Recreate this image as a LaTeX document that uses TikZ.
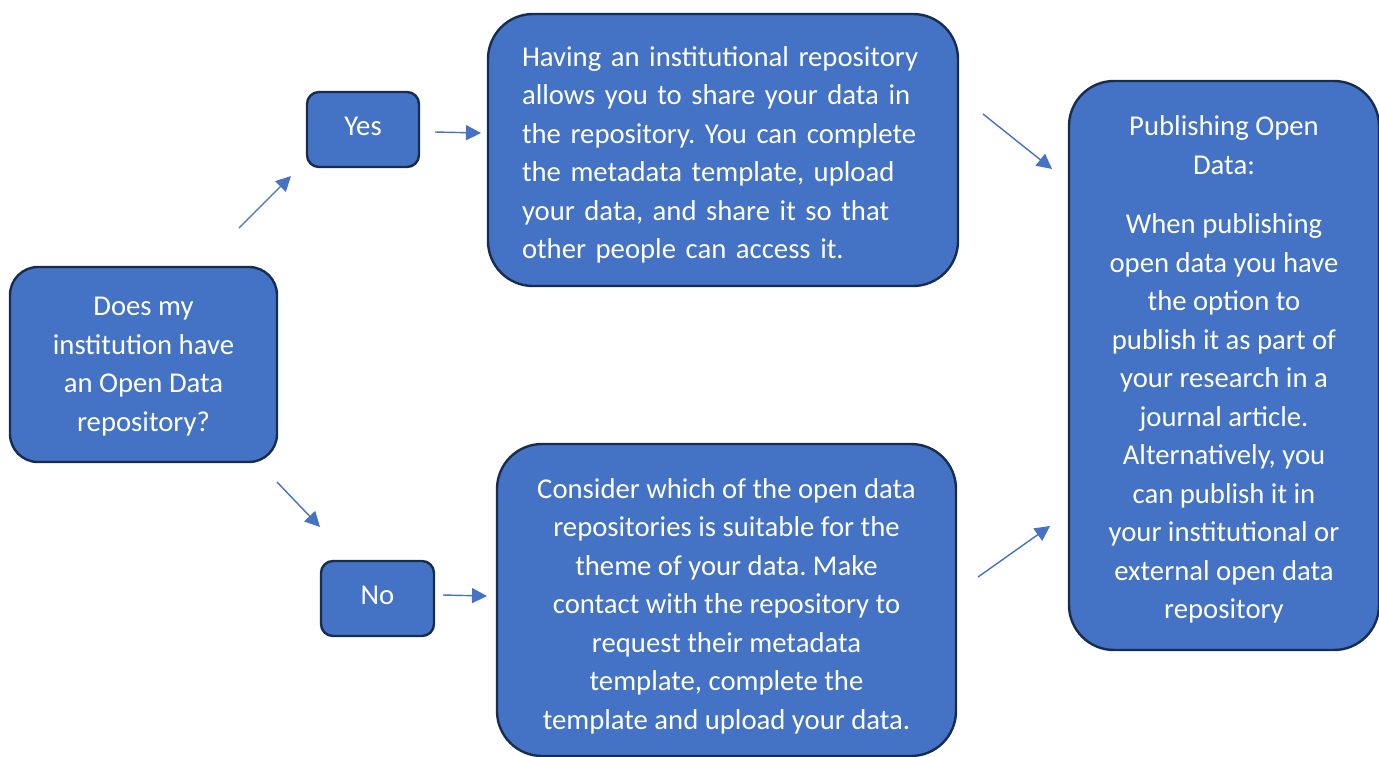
\documentclass[tikz,border=0pt]{standalone}
\usepackage{fontspec}
\setmainfont{Carlito}
\usetikzlibrary{arrows.meta}
\frenchspacing
\definecolor{boxfill}{HTML}{4472C4}
\definecolor{boxedge}{HTML}{172C51}
\tikzset{
  box/.style={draw=boxedge, fill=boxfill, line width=2.4pt, inner sep=0pt},
  boxtext/.style={text=white, inner sep=0pt,
    font=\fontsize{28.7}{38.5}\selectfont, align=center},
  conn/.style={draw=boxfill, line width=1.4pt,
    -{Triangle[length=15pt,width=15pt]}}
}
\begin{document}
\begin{tikzpicture}[x=1pt,y=-1pt]
\useasboundingbox (0,0) rectangle (1379,756);
\node[box, rounded corners=28pt, minimum width=267pt, minimum height=195pt] (q) at (143.5,364.5) {};
\node[boxtext] (qt) at ([yshift=-2pt]q.center)
  {Does my\\institution have\\an Open Data\\repository?};
\node[box, rounded corners=12pt, minimum width=112pt, minimum height=75pt] (yes) at (363,129.5) {};
\node[boxtext] (yest) at ([yshift=3pt]yes.center) {Yes};
\node[box, rounded corners=12pt, minimum width=113pt, minimum height=75pt] (no) at (377.5,598.5) {};
\node[boxtext] (not) at ([yshift=3pt]no.center) {No};
\node[box, rounded corners=45pt, minimum width=470pt, minimum height=272pt] (top) at (723,150) {};
\node[boxtext, align=left, text width=402pt] (topt) at ([yshift=-5pt]top.center)
  {Having an institutional repository\\allows you to share your data in\\the repository. You can complete\\the metadata template, upload\\your data, and share it so that\\other people can access it.};
\node[box, rounded corners=45pt, minimum width=459pt, minimum height=312pt] (bot) at (726.5,600) {};
\node[boxtext] (bott) at ([yshift=-6pt]bot.center)
  {Consider which of the open data\\repositories is suitable for the\\theme of your data. Make\\contact with the repository to\\request their metadata\\template, complete the\\template and upload your data.};
\node[box, rounded corners=45pt, minimum width=310pt, minimum height=569pt] (pub) at (1224,365.5) {};
\node[boxtext] (pubt) at ([yshift=-4pt]pub.center)
  {Publishing Open\\Data:\\[21pt]When publishing\\open data you have\\the option to\\publish it as part of\\your research in a\\journal article.\\Alternatively, you\\can publish it in\\your institutional or\\external open data\\repository};
\coordinate (a1s) at (239,228); \coordinate (a1e) at (291,176);
\coordinate (a2s) at (435,132); \coordinate (a2e) at (481,133);
\coordinate (a3s) at (277,482); \coordinate (a3e) at (320,527);
\coordinate (a4s) at (443,595); \coordinate (a4e) at (487,596);
\coordinate (a5s) at (983,114); \coordinate (a5e) at (1052,169);
\coordinate (a6s) at (978,577); \coordinate (a6e) at (1050,526);
\draw[conn] (a1s) -- (a1e);
\draw[conn] (a2s) -- (a2e);
\draw[conn] (a3s) -- (a3e);
\draw[conn] (a4s) -- (a4e);
\draw[conn] (a5s) -- (a5e);
\draw[conn] (a6s) -- (a6e);
\end{tikzpicture}
\end{document}
